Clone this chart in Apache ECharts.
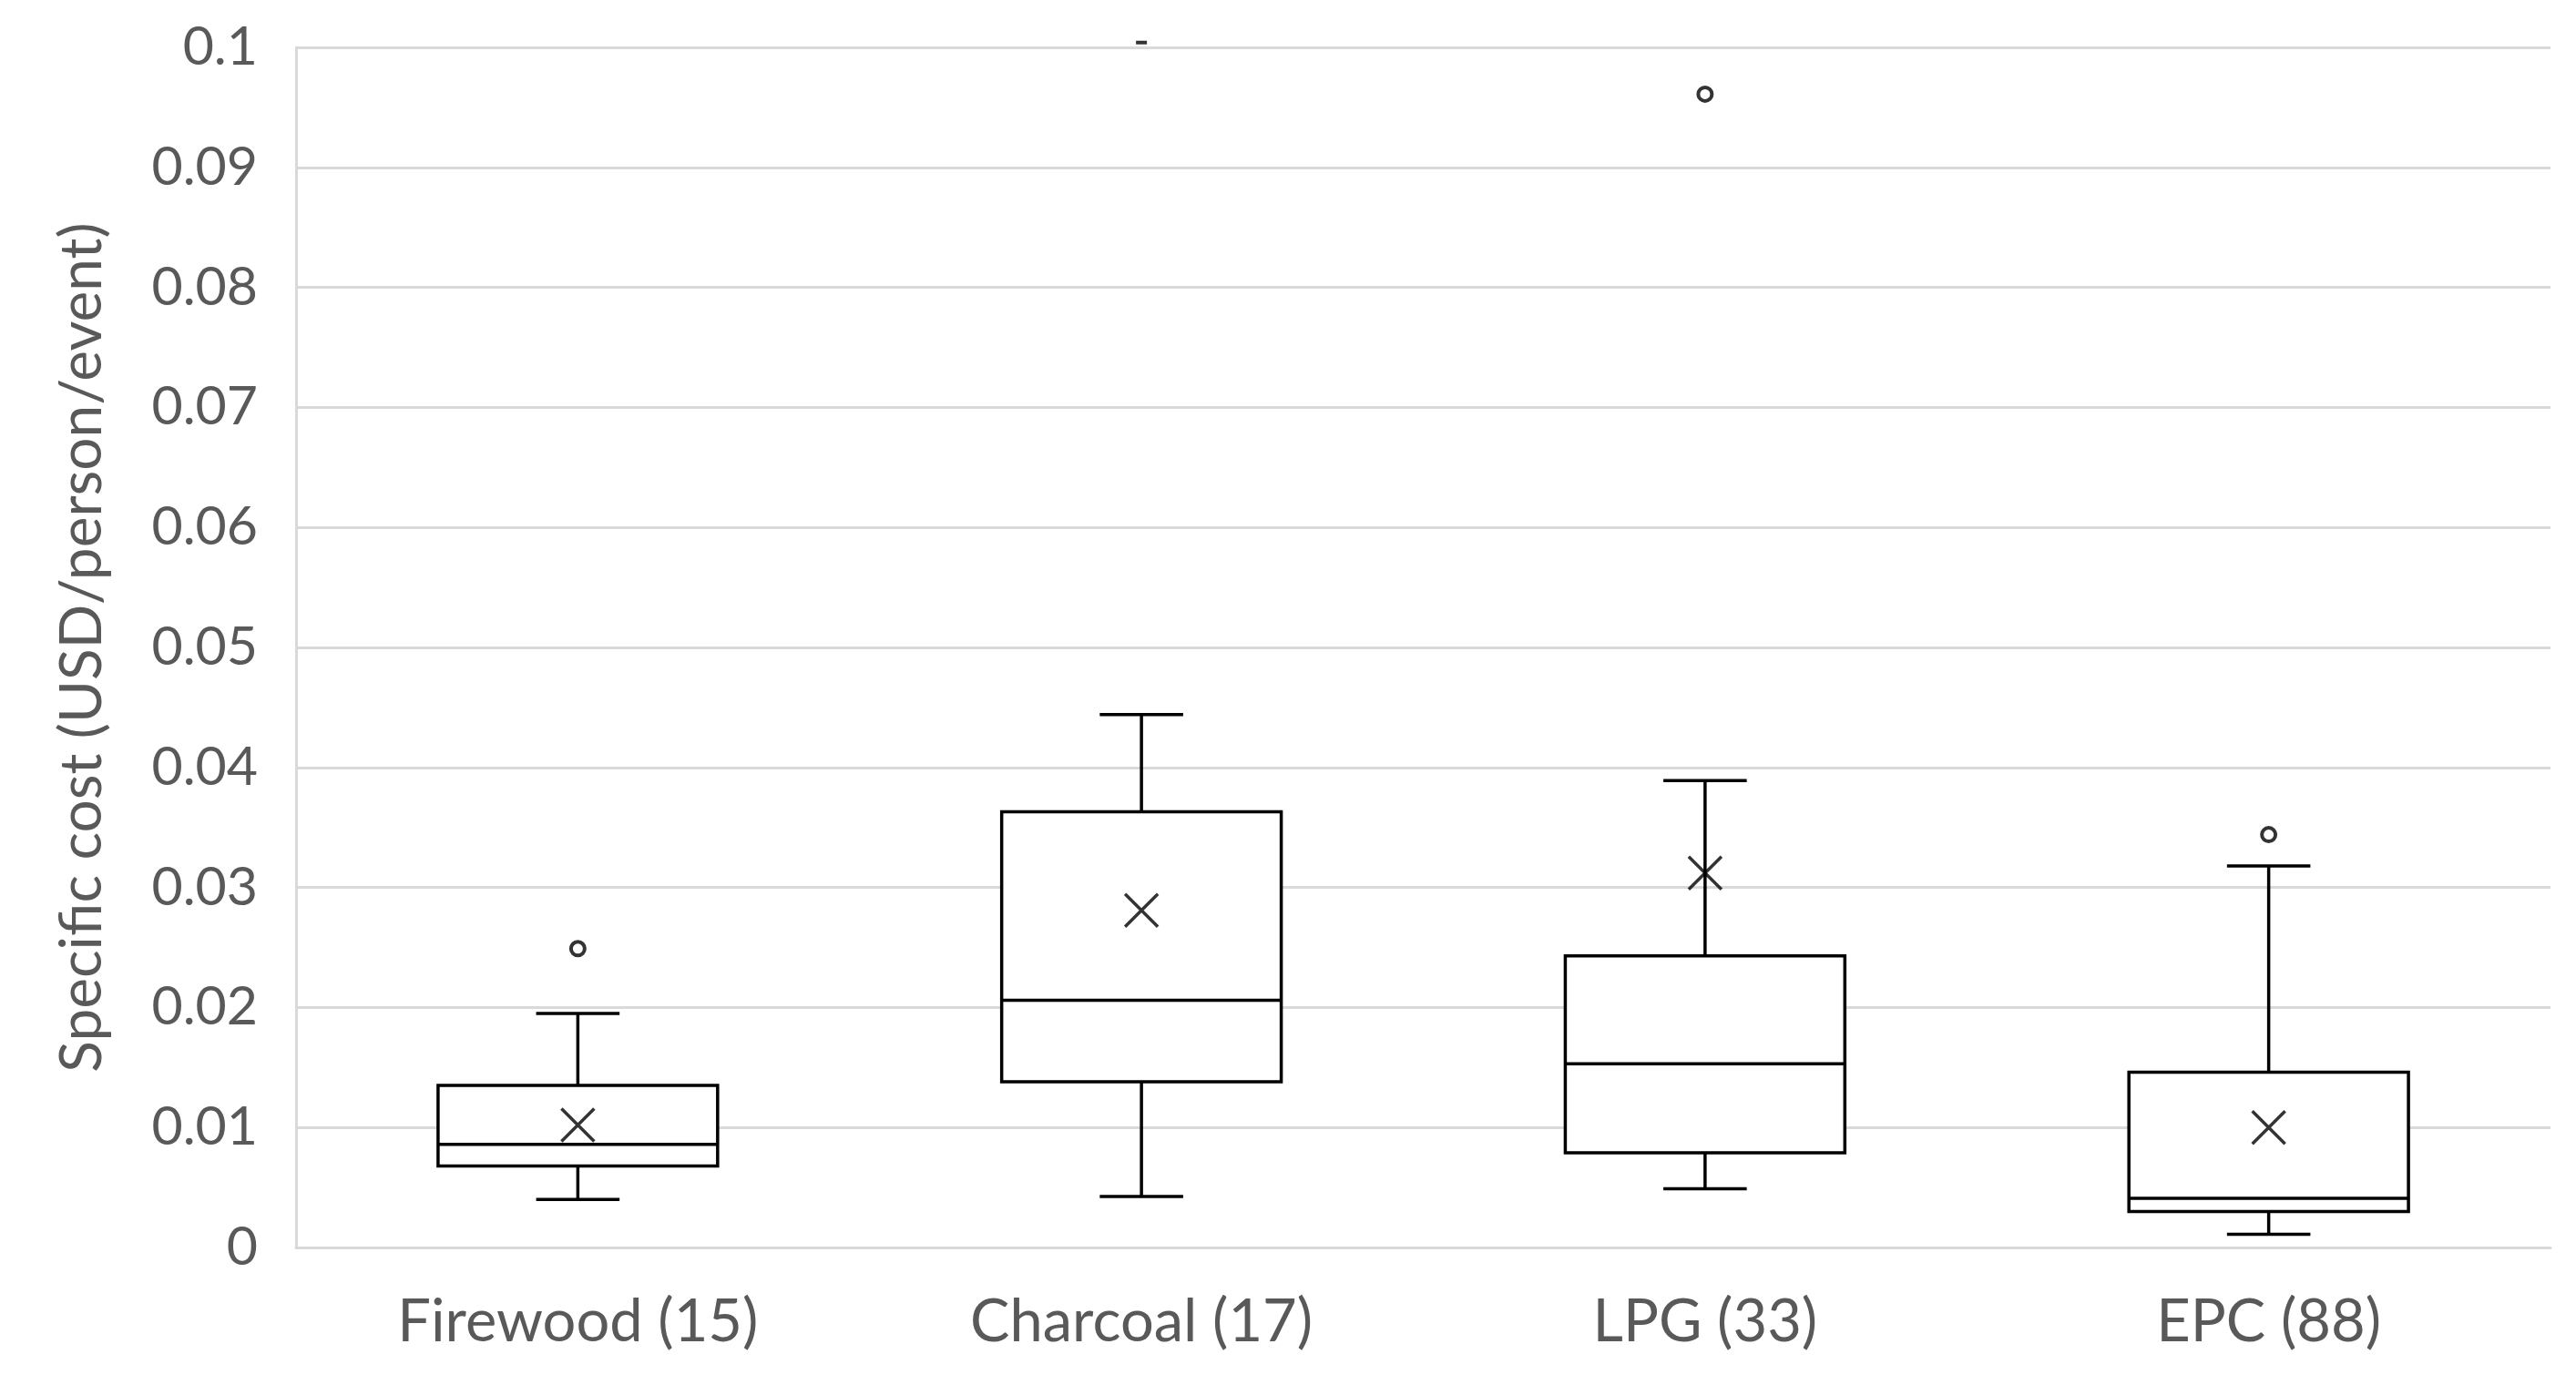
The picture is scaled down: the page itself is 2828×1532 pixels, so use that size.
<!DOCTYPE html>
<html>
<head>
<meta charset="utf-8">
<script src="https://cdn.jsdelivr.net/npm/echarts@6/dist/echarts.min.js"></script>
<style>
  html, body { margin: 0; padding: 0; background: #fff; }
  #chart { width: 2828px; height: 1532px; }
</style>
</head>
<body>
<div id="chart"></div>
<script>
const categories = ['Firewood (15)', 'Charcoal (17)', 'LPG (33)', 'EPC (88)']
const whiskerLow = [0.0040, 0.00425, 0.0049, 0.0011]
const q1 = [0.0068, 0.0138, 0.0079, 0.0030]
const median = [0.0086, 0.0206, 0.0153, 0.0041]
const q3 = [0.0135, 0.0363, 0.0243, 0.0146]
const whiskerHigh = [0.0195, 0.0444, 0.0389, 0.0318]
const means = [0.0102, 0.0281, 0.0312, 0.0100]
const outliers = [[0, 0.0249], [2, 0.0961], [3, 0.0344]]
const clippedOutliers = [[1, 0.1004]]
const yTicks = { min: 0, max: 0.1, interval: 0.01 }

const font = 'Lato, "Open Sans", sans-serif'
const textColor = '#595959'
const gridColor = '#d9d9d9'

const boxRows = categories.map((c, i) => [i, whiskerLow[i], q1[i], median[i], q3[i], whiskerHigh[i]])

function renderBox(params, api) {
  const x = api.value(0)
  const lo = api.coord([x, api.value(1)])
  const b1 = api.coord([x, api.value(2)])
  const md = api.coord([x, api.value(3)])
  const b3 = api.coord([x, api.value(4)])
  const hi = api.coord([x, api.value(5)])
  const band = api.size([1, 0])[0]
  const half = band * 0.248
  const cap = band * 0.074
  const cx = lo[0]
  const style = { stroke: '#000', lineWidth: 3.5, fill: null }
  const line = (x1, y1, x2, y2) => ({ type: 'line', shape: { x1, y1, x2, y2 }, style })
  return {
    type: 'group',
    children: [
      line(cx, hi[1], cx, b3[1]),
      line(cx - cap, hi[1], cx + cap, hi[1]),
      line(cx, b1[1], cx, lo[1]),
      line(cx - cap, lo[1], cx + cap, lo[1]),
      { type: 'rect', shape: { x: cx - half, y: b3[1], width: half * 2, height: b1[1] - b3[1] }, style: { stroke: '#000', lineWidth: 3.5, fill: '#fff' } },
      line(cx - half, md[1], cx + half, md[1])
    ]
  }
}

const chart = echarts.init(document.getElementById('chart'))
chart.setOption({
  animation: false,
  backgroundColor: '#fff',
  grid: { left: 325, right: 28, top: 52, bottom: 162 },
  xAxis: {
    type: 'category',
    data: categories,
    axisLine: { show: true, lineStyle: { color: gridColor, width: 3 } },
    axisTick: { show: false },
    axisLabel: { color: textColor, fontFamily: font, fontSize: 65, margin: 50 }
  },
  yAxis: {
    type: 'value',
    min: yTicks.min,
    max: yTicks.max,
    interval: yTicks.interval,
    name: 'Specific cost (USD/person/event)',
    nameLocation: 'middle',
    nameGap: 203,
    nameTextStyle: { color: textColor, fontFamily: font, fontSize: 64 },
    axisLine: { show: true, lineStyle: { color: gridColor, width: 3 } },
    axisTick: { show: false },
    splitLine: { lineStyle: { color: gridColor, width: 3 } },
    axisLabel: { color: textColor, fontFamily: font, fontSize: 59, margin: 42 }
  },
  series: [
    {
      type: 'custom',
      renderItem: renderBox,
      encode: { x: 0, y: [1, 2, 3, 4, 5] },
      data: boxRows,
      z: 3
    },
    {
      type: 'scatter',
      data: means.map((m, i) => [i, m]),
      symbol: 'path://M0,0L10,10M10,0L0,10',
      symbolSize: 36,
      itemStyle: { color: 'none', borderColor: '#000', borderWidth: 3.5 },
      z: 4
    },
    {
      type: 'scatter',
      data: outliers,
      symbol: 'circle',
      symbolSize: 15,
      itemStyle: { color: '#fff', borderColor: '#000', borderWidth: 4 },
      z: 4
    },
    {
      type: 'scatter',
      data: clippedOutliers,
      symbol: 'rect',
      symbolSize: [12, 4],
      clip: false,
      itemStyle: { color: '#000' },
      z: 4
    }
  ]
})
</script>
</body>
</html>
